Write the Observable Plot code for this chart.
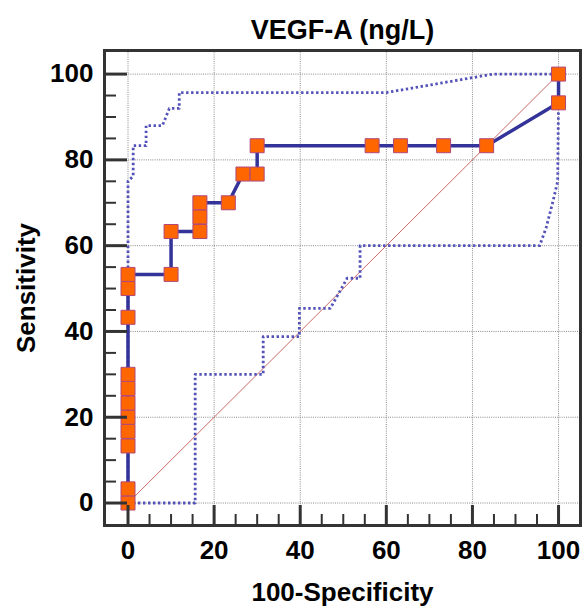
<!DOCTYPE html>
<html><head><meta charset="utf-8">
<script src="https://cdn.jsdelivr.net/npm/d3@7"></script>
<script src="https://cdn.jsdelivr.net/npm/@observablehq/plot@0.6"></script>
<style>body{margin:0;background:#fff}</style>
</head><body><div id="chart"></div>
<script>
const title = "VEGF-A (ng/L)";
const xLabel = "100-Specificity";
const yLabel = "Sensitivity";
const majorTicks = [0, 20, 40, 60, 80, 100];
const minorTicks = [5, 10, 15, 25, 30, 35, 45, 50, 55, 65, 70, 75, 85, 90, 95];

// ROC curve points (100-Specificity, Sensitivity)
const rocX = [0, 0, 0, 0, 0, 0, 0, 0, 0, 0, 0, 10, 10, 16.7, 16.7, 16.7, 23.3, 26.7, 30, 30, 56.7, 63.3, 73.3, 83.3, 100, 100];
const rocY = [0, 3.3, 13.3, 16.7, 20, 23.3, 26.7, 30, 43.3, 50, 53.3, 53.3, 63.3, 63.3, 66.7, 70, 70, 76.7, 76.7, 83.3, 83.3, 83.3, 83.3, 83.3, 93.3, 100];

// Upper confidence bound
const upX = [0, 0, 1.2, 1.2, 4.2, 4.2, 8, 9.6, 11.9, 11.9, 60, 84.8, 100];
const upY = [0, 75, 76.2, 83.3, 83.3, 88, 88, 92, 92, 95.7, 95.7, 100, 100];

// Lower confidence bound
const loX = [0, 15.6, 15.6, 31.4, 31.4, 39.8, 39.8, 47, 50.9, 53.9, 53.9, 95.6, 97.1, 98.7, 99.8, 100, 100];
const loY = [0, 0, 30, 30, 38.8, 38.8, 45.4, 45.4, 52.4, 52.4, 60, 60, 64.1, 70.3, 75, 93.3, 100];

// Reference diagonal
const diagX = [0, 100];
const diagY = [0, 100];

const toRows = (xs, ys) => xs.map((x, i) => ({x, y: ys[i]}));
const roc = toRows(rocX, rocY);
const upper = toRows(upX, upY);
const lower = toRows(loX, loY);
const diag = toRows(diagX, diagY);

const font = "'Liberation Sans', Arial, sans-serif";
const ciStyle = {x: "x", y: "y", stroke: "#5252b8", strokeWidth: 2.8, strokeDasharray: "2.4,2.6", strokeLinecap: "butt"};
const gridStyle = {stroke: "#8a8a8a", strokeOpacity: 1, strokeWidth: 1, strokeDasharray: "1,1.2"};

const chart = Plot.plot({
  width: 582, height: 607,
  marginLeft: 104, marginRight: 2, marginTop: 50, marginBottom: 82,
  x: {domain: [-5.46, 105.1]},
  y: {domain: [-5.24, 105.5]},
  style: {fontFamily: font, background: "#fff", color: "#000"},
  marks: [
    Plot.gridX(majorTicks, gridStyle),
    Plot.gridY(majorTicks, gridStyle),
    Plot.line(diag, {x: "x", y: "y", stroke: "#c0504d", strokeWidth: 1, strokeOpacity: 0.85}),
    Plot.line(upper, ciStyle),
    Plot.line(lower, ciStyle),
    Plot.line(roc, {x: "x", y: "y", stroke: "#333399", strokeWidth: 3.5}),
    Plot.dot(roc, {x: "x", y: "y", symbol: "square", r: 7.9, fill: "#ff6600", stroke: "#b0487a", strokeWidth: 1}),
    Plot.frame({stroke: "#333", strokeWidth: 3}),
    Plot.axisY(majorTicks, {anchor: "left", tickSize: -23, strokeWidth: 3, stroke: "#333", tickFormat: () => "", label: null}),
    Plot.axisY(minorTicks, {anchor: "left", tickSize: -12, strokeWidth: 2, stroke: "#333", tickFormat: () => "", label: null}),
    Plot.axisX(majorTicks, {anchor: "bottom", tickSize: -20, strokeWidth: 3, stroke: "#333", tickFormat: () => "", label: null}),
    Plot.axisX(minorTicks, {anchor: "bottom", tickSize: -11, strokeWidth: 2, stroke: "#333", tickFormat: () => "", label: null}),
    Plot.axisY(majorTicks, {anchor: "left", tickSize: 0, tickPadding: 11, fontSize: 26, fontWeight: "bold", label: null}),
    Plot.axisX(majorTicks, {anchor: "bottom", tickSize: 0, tickPadding: 15, fontSize: 26, fontWeight: "bold", label: null}),
    Plot.text([title], {frameAnchor: "top", dy: -20, lineAnchor: "middle", fontSize: 27, fontWeight: "bold", fill: "#000"}),
    Plot.text([yLabel], {frameAnchor: "left", dx: -78, rotate: -90, textAnchor: "middle", lineAnchor: "middle", fontSize: 26, fontWeight: "bold", fill: "#000"}),
    Plot.text([xLabel], {frameAnchor: "bottom", dy: 67, textAnchor: "middle", lineAnchor: "middle", fontSize: 26, fontWeight: "bold", fill: "#000"})
  ]
});
document.getElementById("chart").appendChild(chart);
</script>
</body></html>
